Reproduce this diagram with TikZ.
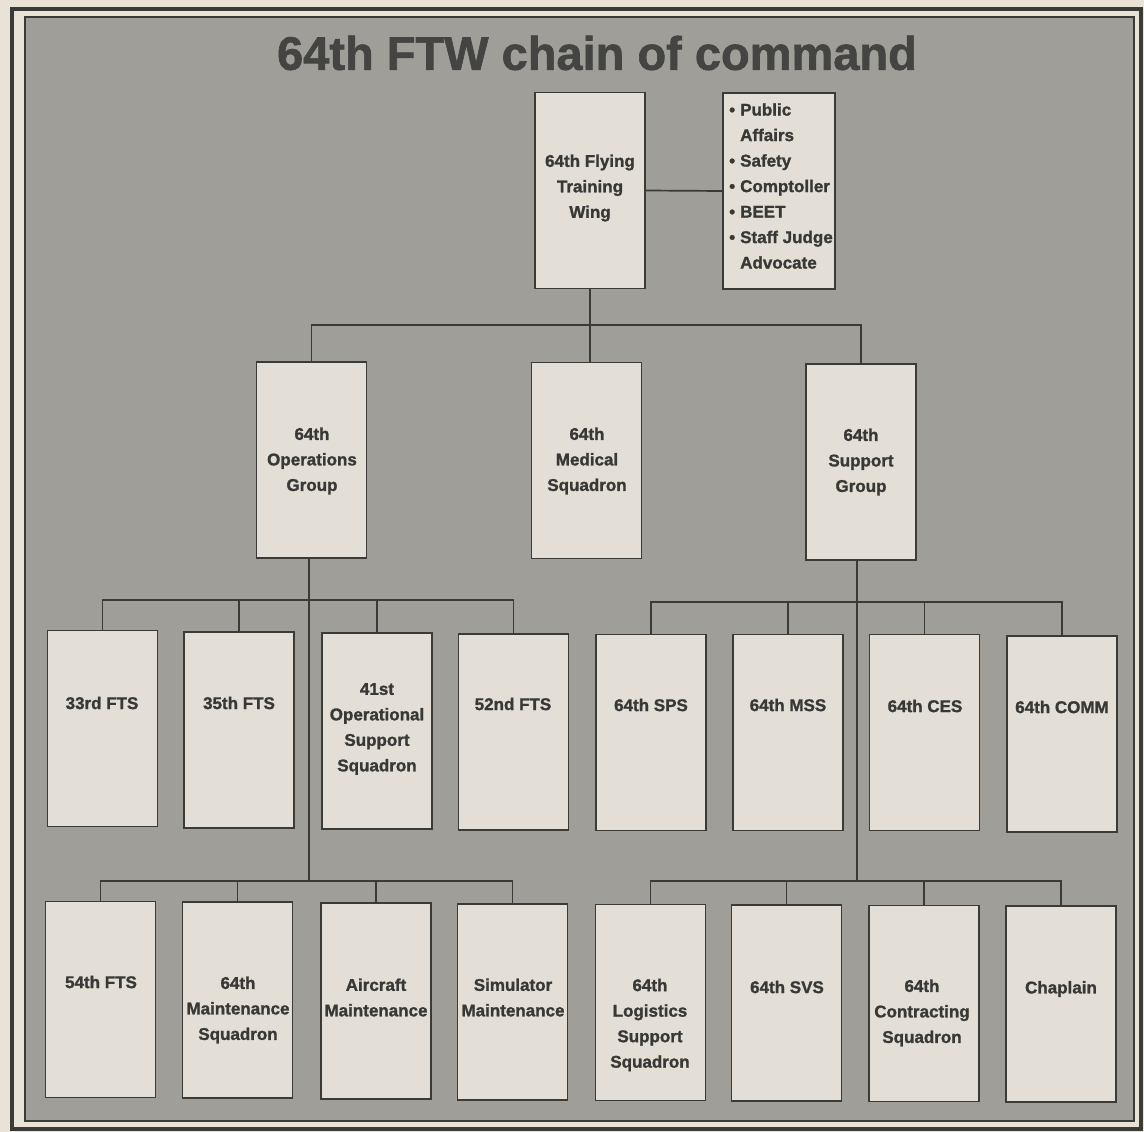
\documentclass[tikz,border=0pt]{standalone}
\usepackage{fontspec}
\setmainfont{Liberation Sans}
\newfontfamily\heavyfont{Liberation Sans}[BoldFeatures={FakeBold=1.3}]
\definecolor{marginc}{HTML}{E8E2D7}
\definecolor{bgc}{HTML}{A09E99}
\definecolor{boxc}{HTML}{E3DFD7}
\definecolor{linec}{HTML}{3A3A38}
\definecolor{txtc}{HTML}{383836}
\definecolor{titlec}{HTML}{444442}
\tikzset{
  orgbox/.style={draw=linec, fill=boxc, line width=1.7pt, minimum width=110, minimum height=196, inner sep=0},
  lbl/.style={font=\heavyfont\bfseries\fontsize{17}{25.5}\selectfont, text=txtc, align=center, inner sep=0},
  conn/.style={draw=linec, line width=1.7pt}
}
\newcommand\bulx{\makebox[11pt][l]{\textbullet}}
\begin{document}
\begin{tikzpicture}[x=1pt, y=-1pt]
\useasboundingbox (0,0) rectangle (1144,1132);
\fill[marginc] (0,0) rectangle (1144,1132);
\draw[linec, line width=3.5pt] (12,9) rectangle (1141,1129);
\filldraw[fill=bgc, draw=linec, line width=1.5pt] (25,17) rectangle (1134,1121);

\node[font=\heavyfont\bfseries\fontsize{47}{50}\selectfont, text=titlec, inner sep=0] (title) at (597,53) {64th FTW chain of command};

% level 1
\node[orgbox] (wing) at (590,190.5) {};
\node[orgbox, minimum width=112] (staff) at (779,191) {};
% level 2
\node[orgbox] (ops) at (311.5,460) {};
\node[orgbox] (med) at (586.5,460.5) {};
\node[orgbox] (sup) at (861,462) {};
% row 3
\node[orgbox] (f33) at (102.5,728.5) {};
\node[orgbox] (f35) at (239,730) {};
\node[orgbox] (o41) at (377,731) {};
\node[orgbox] (f52) at (513.5,732) {};
\node[orgbox] (sps) at (651,732.5) {};
\node[orgbox] (mss) at (788,732.5) {};
\node[orgbox] (ces) at (924.5,732.5) {};
\node[orgbox] (comm) at (1062,734) {};
% row 4
\node[orgbox] (f54) at (100.5,999.5) {};
\node[orgbox] (m64) at (237.5,1000) {};
\node[orgbox] (acm) at (376,1001) {};
\node[orgbox] (sim) at (512.5,1002) {};
\node[orgbox] (log) at (650.5,1002.5) {};
\node[orgbox] (svs) at (786.5,1003) {};
\node[orgbox] (con) at (924,1003.5) {};
\node[orgbox] (chap) at (1061,1004) {};

% bus coordinates
\coordinate (bus2) at (587,325);
\coordinate (bus3o) at (309,600);
\coordinate (bus3s) at (857,602);
\coordinate (bus4o) at (309,881);
\coordinate (bus4s) at (857,881);

% connectors
\draw[conn] (wing.east) -- (staff.west);
\draw[conn] (wing.south) -- (wing.south |- med.north);
\draw[conn] (ops.north) |- (bus2) -| (sup.north);
\draw[conn] (ops.south -| bus3o) -- (bus4o);
\draw[conn] (sup.south -| bus3s) -- (bus4s);
\draw[conn] (f33.north) |- (bus3o) -| (f52.north);
\draw[conn] (f35.north) -- (f35.north |- bus3o);
\draw[conn] (o41.north) -- (o41.north |- bus3o);
\draw[conn] (sps.north) |- (bus3s) -| (comm.north);
\draw[conn] (mss.north) -- (mss.north |- bus3s);
\draw[conn] (ces.north) -- (ces.north |- bus3s);
\draw[conn] (f54.north) |- (bus4o) -| (sim.north);
\draw[conn] (m64.north) -- (m64.north |- bus4o);
\draw[conn] (acm.north) -- (acm.north |- bus4o);
\draw[conn] (log.north) |- (bus4s) -| (chap.north);
\draw[conn] (svs.north) -- (svs.north |- bus4s);
\draw[conn] (con.north) -- (con.north |- bus4s);

% labels
\node[lbl] (twing) at (590,188) {64th Flying\\Training\\Wing};
\node[lbl, align=left, anchor=west] (tstaff) at (729,186) {\bulx Public\\\hphantom{\bulx}Affairs\\\bulx Safety\\\bulx Comptoller\\\bulx BEET\\\bulx Staff Judge\\\hphantom{\bulx}Advocate};
\node[lbl] (tops) at (312,461) {64th\\Operations\\Group};
\node[lbl] (tmed) at (587,461) {64th\\Medical\\Squadron};
\node[lbl] (tsup) at (861,462) {64th\\Support\\Group};
\node[lbl] (t33) at (102,703) {33rd FTS};
\node[lbl] (t35) at (239,703) {35th FTS};
\node[lbl] (t41) at (377,729) {41st\\Operational\\Support\\Squadron};
\node[lbl] (t52) at (513,704) {52nd FTS};
\node[lbl] (tsps) at (651,705) {64th SPS};
\node[lbl] (tmss) at (788,705) {64th MSS};
\node[lbl] (tces) at (925,706) {64th CES};
\node[lbl] (tcomm) at (1062,707) {64th COMM};
\node[lbl] (t54) at (101,982) {54th FTS};
\node[lbl] (tm64) at (238,1010) {64th\\Maintenance\\Squadron};
\node[lbl] (tacm) at (376,997.5) {Aircraft\\Maintenance};
\node[lbl] (tsim) at (513,997.5) {Simulator\\Maintenance};
\node[lbl] (tlog) at (650,1025) {64th\\Logistics\\Support\\Squadron};
\node[lbl] (tsvs) at (787,987) {64th SVS};
\node[lbl] (tcon) at (922,1013) {64th\\Contracting\\Squadron};
\node[lbl] (tchap) at (1061,989) {Chaplain};
\end{tikzpicture}
\end{document}
